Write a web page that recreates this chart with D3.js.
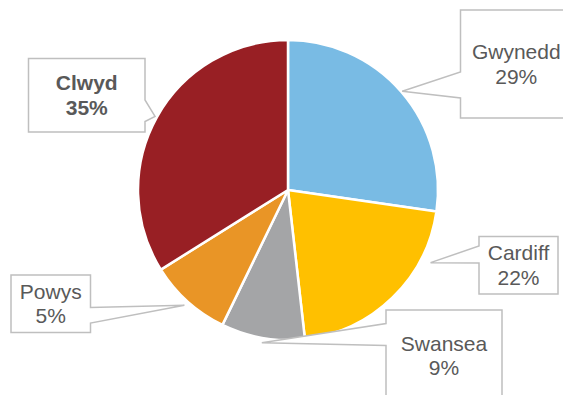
<!DOCTYPE html>
<html>
<head>
<meta charset="utf-8">
<script src="https://cdn.jsdelivr.net/npm/d3@7"></script>
<style>
  body { margin: 0; background: #fff; }
  svg { display: block; font-family: "Liberation Sans", Arial, sans-serif; }
</style>
</head>
<body>
<svg id="chart"></svg>
<script>
// data (slice sizes from the angles, labels as printed)
const regions = ["Gwynedd", "Cardiff", "Swansea", "Powys", "Clwyd"];
const shares = [27.3, 20.9, 9.0, 8.9, 33.9];
const pctLabels = ["29%", "22%", "9%", "5%", "35%"];
const colours = ["#79bbe4", "#ffc000", "#a4a5a7", "#e99526", "#981f24"];

const width = 563;
const height = 395;
const cx = 288, cy = 190, radius = 150;

// label boxes: [x0, y0, x1, y1], pointer side and where the pointer leaves the box
const labelLayout = [
  {box: [460.5, 10, 572, 118], side: "left", base: [72, 98], tipR: 151},
  {box: [479, 236.5, 558, 294], side: "left", base: [246, 263], tipR: 160, tipA: 117},
  {box: [386, 310, 502, 401], side: "left", base: [323.5, 345.5], tipR: 155},
  {box: [11, 275, 90.5, 332.5], side: "right", base: [307.5, 323], tipR: 155},
  {box: [28.5, 58.5, 145, 132], side: "right", base: [100, 121.5], tipR: 152}
];

const svg = d3.select('#chart')
    .attr('width', width)
    .attr('height', height);

const g = svg.append('g')
    .attr('transform', 'translate(' + cx + ',' + cy + ')');

const pie = d3.pie().sort(null).value(d => d)(shares);
const arc = d3.arc().innerRadius(0).outerRadius(radius);

g.selectAll('path.slice')
    .data(pie)
    .enter()
    .append('path')
    .attr('class', 'slice')
    .attr('d', arc)
    .attr('fill', (d, i) => colours[i])
    .attr('stroke', '#fff')
    .attr('stroke-width', 2.5)
    .attr('stroke-linejoin', 'round');

// callout boxes
function calloutPath(l, tip) {
  const [x0, y0, x1, y1] = l.box;
  const [b1, b2] = l.base;
  if (l.side === 'left') {
    return 'M' + x0 + ',' + y0 + 'H' + x1 + 'V' + y1 + 'H' + x0 +
      'V' + b2 + 'L' + tip[0] + ',' + tip[1] + 'L' + x0 + ',' + b1 + 'Z';
  }
  return 'M' + x0 + ',' + y0 + 'H' + x1 + 'V' + b1 +
    'L' + tip[0] + ',' + tip[1] + 'L' + x1 + ',' + b2 + 'V' + y1 + 'H' + x0 + 'Z';
}

const labels = svg.append('g');

pie.forEach(function(d, i) {
  const l = labelLayout[i];
  const a = (l.tipA !== undefined ? l.tipA * Math.PI / 180 : (d.startAngle + d.endAngle) / 2);
  const tip = [cx + l.tipR * Math.sin(a), cy - l.tipR * Math.cos(a)];

  labels.append('path')
      .attr('d', calloutPath(l, tip))
      .attr('fill', '#fff')
      .attr('stroke', '#bfbfbf')
      .attr('stroke-width', 1.5);

  const tx = (l.box[0] + l.box[2]) / 2;
  const ty = (l.box[1] + l.box[3]) / 2;
  const text = labels.append('text')
      .attr('x', tx)
      .attr('text-anchor', 'middle')
      .attr('fill', '#595959')
      .style('font-size', '21px')
      .style('font-weight', regions[i] === 'Clwyd' ? 'bold' : 'normal');
  text.append('tspan')
      .attr('x', tx)
      .attr('y', ty - 12.2)
      .attr('dy', '0.35em')
      .text(regions[i]);
  text.append('tspan')
      .attr('x', tx)
      .attr('y', ty + 12.2)
      .attr('dy', '0.35em')
      .text(pctLabels[i]);
});
</script>
</body>
</html>
